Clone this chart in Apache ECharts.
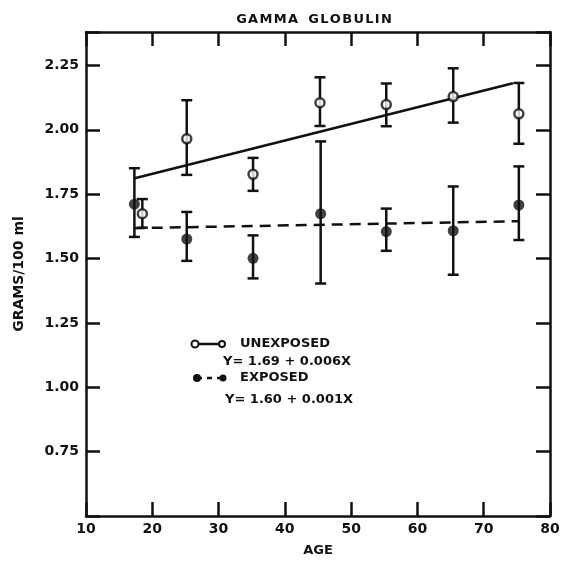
<!DOCTYPE html>
<html>
<head>
<meta charset="utf-8">
<script src="https://cdn.jsdelivr.net/npm/echarts@6/dist/echarts.min.js"></script>
<style>
  html, body { margin: 0; padding: 0; background: #fff; }
  #chart { width: 564px; height: 562px; }
</style>
</head>
<body>
<div id="chart"></div>
<script>
// values
const unexposedAge = [18.5, 25.2, 35.2, 45.3, 55.3, 65.4, 75.3];
const unexposedMean = [1.674, 1.965, 1.827, 2.105, 2.098, 2.129, 2.062];
const unexposedLow = [1.62, 1.825, 1.763, 2.015, 2.014, 2.028, 1.946];
const unexposedHigh = [1.731, 2.115, 1.891, 2.204, 2.18, 2.239, 2.182];

const exposedAge = [17.3, 25.2, 35.2, 45.4, 55.3, 65.4, 75.3];
const exposedMean = [1.711, 1.576, 1.501, 1.674, 1.605, 1.608, 1.708];
const exposedLow = [1.584, 1.491, 1.423, 1.403, 1.53, 1.437, 1.572];
const exposedHigh = [1.851, 1.681, 1.59, 1.955, 1.694, 1.78, 1.858];

// regression lines, end points
const unexposedFitX = [17.2, 74.4];
const unexposedFitY = [1.811, 2.181];
const exposedFitX = [17.2, 75.2];
const exposedFitY = [1.618, 1.645];

const yTickLabels = ["0.75", "1.00", "1.25", "1.50", "1.75", "2.00", "2.25"];

const FONT = "DejaVu Sans";
const INK = "#111";

const chart = echarts.init(document.getElementById("chart"));

function errorBar(params, api) {
  const x = api.value(0);
  const lo = api.coord([x, api.value(1)]);
  const hi = api.coord([x, api.value(2)]);
  const cap = 5.5;
  const style = { stroke: INK, lineWidth: 2.5 };
  return {
    type: "group",
    children: [
      { type: "line", shape: { x1: lo[0], y1: lo[1], x2: hi[0], y2: hi[1] }, style },
      { type: "line", shape: { x1: lo[0] - cap, y1: lo[1], x2: lo[0] + cap, y2: lo[1] }, style },
      { type: "line", shape: { x1: hi[0] - cap, y1: hi[1], x2: hi[0] + cap, y2: hi[1] }, style },
    ],
  };
}

const zip = (a, b) => a.map((v, i) => [v, b[i]]);
const zip3 = (a, b, c) => a.map((v, i) => [v, b[i], c[i]]);

const axisLine = { show: true, lineStyle: { color: INK, width: 2.5 } };
const axisTick = { show: true, inside: true, length: 14, lineStyle: { color: INK, width: 2.5 } };
const labelFont = { color: INK, fontFamily: FONT, fontWeight: "bold", fontSize: 14 };

const legendText = (x, y, text) => ({
  type: "text", x, y,
  style: { text, fill: INK, font: "bold 13px '" + FONT + "'", verticalAlign: "middle" },
});

const option = {
  backgroundColor: "#fff",
  animation: false,
  title: {
    text: "G A M M A   G L O B U L I N".replace(/ (?! )/g, "\u200a"),
    left: 309,
    top: 8,
    textAlign: "center",
    textStyle: { color: INK, fontFamily: FONT, fontWeight: "bold", fontSize: 13 },
  },
  grid: { left: 86, right: 14, top: 32, bottom: 43 },
  xAxis: [
    {
      type: "value",
      min: 10,
      max: 80,
      interval: 10,
      position: "bottom",
      axisLine,
      axisTick,
      splitLine: { show: false },
      axisLabel: { ...labelFont, margin: 6 },
      name: "AGE",
      nameLocation: "middle",
      nameGap: 28,
      nameTextStyle: { ...labelFont, fontSize: 13 },
    },
    {
      type: "value",
      min: 10,
      max: 80,
      interval: 10,
      position: "top",
      axisLine,
      axisTick,
      splitLine: { show: false },
      axisLabel: { show: false },
    },
  ],
  yAxis: [
    {
      type: "value",
      min: 0.5,
      max: 2.38,
      interval: 0.25,
      position: "left",
      axisLine,
      axisTick,
      splitLine: { show: false },
      axisLabel: {
        ...labelFont,
        margin: 7,
        formatter: (v) => {
          const s = v.toFixed(2);
          return yTickLabels.includes(s) ? s : "";
        },
      },
      name: "GRAMS/100 ml",
      nameLocation: "middle",
      nameGap: 60,
      nameTextStyle: { ...labelFont, fontSize: 14 },
    },
    {
      type: "value",
      min: 0.5,
      max: 2.38,
      interval: 0.25,
      position: "right",
      axisLine,
      axisTick,
      splitLine: { show: false },
      axisLabel: { show: false },
    },
  ],
  series: [
    {
      name: "unexposed fit",
      type: "line",
      data: zip(unexposedFitX, unexposedFitY),
      symbol: "none",
      lineStyle: { color: INK, width: 2.5 },
      z: 2,
    },
    {
      name: "exposed fit",
      type: "line",
      data: zip(exposedFitX, exposedFitY),
      symbol: "none",
      lineStyle: { color: INK, width: 2.5, type: [11, 7] },
      z: 2,
    },
    {
      name: "unexposed range",
      type: "custom",
      renderItem: errorBar,
      data: zip3(unexposedAge, unexposedLow, unexposedHigh),
      z: 3,
    },
    {
      name: "exposed range",
      type: "custom",
      renderItem: errorBar,
      data: zip3(exposedAge, exposedLow, exposedHigh),
      z: 3,
    },
    {
      name: "UNEXPOSED",
      type: "scatter",
      data: zip(unexposedAge, unexposedMean),
      symbol: "circle",
      symbolSize: 9,
      itemStyle: { color: "#fff", borderColor: INK, borderWidth: 2.5 },
      z: 5,
    },
    {
      name: "EXPOSED",
      type: "scatter",
      data: zip(exposedAge, exposedMean),
      symbol: "circle",
      symbolSize: 11,
      itemStyle: { color: INK },
      z: 5,
    },
  ],
  graphic: [
    { type: "line", shape: { x1: 195, y1: 344, x2: 222, y2: 344 }, style: { stroke: INK, lineWidth: 2.5 } },
    { type: "circle", shape: { cx: 195, cy: 344, r: 3.5 }, style: { fill: "#fff", stroke: INK, lineWidth: 2 } },
    { type: "circle", shape: { cx: 222, cy: 344, r: 3 }, style: { fill: "#fff", stroke: INK, lineWidth: 2 } },
    legendText(240, 344, "UNEXPOSED"),
    legendText(223, 362, "Y= 1.69 + 0.006X"),
    { type: "line", shape: { x1: 197, y1: 378, x2: 223, y2: 378 }, style: { stroke: INK, lineWidth: 2.5, lineDash: [5, 5] } },
    { type: "circle", shape: { cx: 197, cy: 378, r: 4 }, style: { fill: INK } },
    { type: "circle", shape: { cx: 223, cy: 378, r: 3.5 }, style: { fill: INK } },
    legendText(240, 378, "EXPOSED"),
    legendText(225, 400, "Y= 1.60 + 0.001X"),
  ],
};

chart.setOption(option);
</script>
</body>
</html>
